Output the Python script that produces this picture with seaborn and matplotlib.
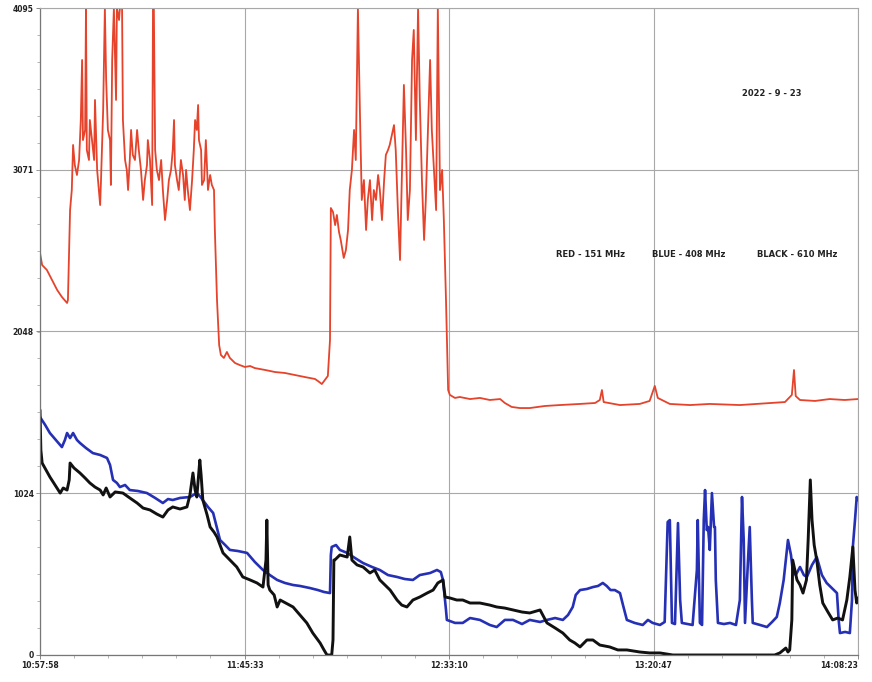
import numpy as np
import pandas as pd
import matplotlib
matplotlib.use("Agg")
import matplotlib.pyplot as plt
import seaborn as sns
from matplotlib.ticker import FixedLocator, MultipleLocator

# ---- data (time in minutes since 10:57:58, value in counts) ----
red_t = [0.0, 0.5, 1.6, 2.8, 4.0, 5.1, 6.3, 6.5, 7.0, 7.4, 7.7, 8.1, 8.6, 9.1, 9.5, 9.8, 10.0, 10.5, 10.7, 10.9,
         11.4, 11.6, 12.1, 12.6, 12.8, 13.3, 13.7, 14.0, 14.2, 14.7, 15.1, 15.4, 15.8, 16.3, 16.5, 16.8, 17.2, 17.7,
         17.9, 18.4, 18.6, 19.1, 19.3, 19.8, 20.2, 20.5, 20.9, 21.2, 21.6, 22.1, 22.6, 23.0, 23.5, 24.0, 24.4, 24.9,
         25.1, 25.6, 26.1, 26.3, 26.5, 26.8, 27.2, 27.7, 28.2, 28.6, 29.1, 29.6, 30.0, 30.5, 30.9, 31.2, 31.4, 31.9,
         32.3, 32.8, 33.3, 33.7, 34.0, 34.4, 34.9, 35.4, 35.8, 36.1, 36.5, 36.8, 37.0, 37.5, 37.7, 38.2, 38.6, 39.1,
         39.6, 40.0, 40.5, 40.7, 41.2, 41.7, 42.1, 42.8, 43.5, 44.2, 45.4, 46.5, 47.7, 48.9, 50.0, 52.4, 54.7, 57.0,
         59.3, 61.7, 64.0, 64.7, 65.6, 66.3, 67.0, 67.5, 67.7, 68.2, 68.7, 69.1, 69.6, 70.0, 70.7, 71.2, 71.7, 72.1,
         72.6, 73.1, 73.5, 74.0, 74.5, 74.9, 75.4, 75.9, 76.3, 76.8, 77.3, 77.7, 78.2, 78.7, 79.1, 79.6, 80.1, 80.5,
         81.0, 81.4, 81.9, 82.4, 82.8, 83.3, 83.8, 84.2, 84.7, 85.2, 85.6, 86.1, 86.6, 87.0, 87.5, 88.0, 88.4, 88.9,
         89.4, 89.8, 90.3, 90.8, 91.2, 91.7, 92.2, 92.6, 93.1, 93.6, 94.0, 94.5, 95.0, 95.4, 96.6, 97.7, 100.1, 102.4,
         104.7, 107.1, 108.2, 109.8, 111.7, 114.0, 117.5, 121.0, 125.7, 129.2, 130.3, 130.8, 131.2, 135.0, 139.6,
         141.9, 143.1, 143.8, 146.6, 151.3, 155.9, 162.9, 169.9, 173.4, 175.0, 175.5, 175.9, 176.9, 180.4, 183.8,
         187.3, 190.4]
red_v = [2544, 2468, 2437, 2373, 2310, 2266, 2228, 2247, 2816, 2943, 3228, 3101, 3038, 3133, 3386, 3766, 3259, 3323,
         4095, 3196, 3133, 3386, 3259, 3133, 3513, 3070, 2943, 2848, 3006, 3449, 4095, 3639, 3323, 3259, 2975, 3766,
         4095, 3513, 4095, 4019, 4095, 4095, 3386, 3133, 3070, 2943, 3133, 3323, 3165, 3133, 3323, 3196, 3070, 2880,
         3006, 3101, 3259, 3133, 2848, 4095, 4095, 3196, 3070, 3006, 3133, 2943, 2753, 2880, 3006, 3070, 3196, 3386,
         3101, 3006, 2943, 3133, 3038, 2880, 3070, 2943, 2816, 3006, 3196, 3386, 3323, 3481, 3259, 3196, 2975, 3006,
         3259, 2943, 3038, 2975, 2943, 2690, 2247, 1962, 1899, 1880, 1918, 1880, 1848, 1835, 1823, 1829, 1816, 1804,
         1791, 1785, 1772, 1759, 1747, 1734, 1715, 1740, 1766, 1994, 2829, 2804, 2721, 2785, 2677, 2627, 2513, 2563,
         2690, 2943, 3070, 3323, 3133, 4095, 3386, 2880, 3006, 2690, 2880, 3006, 2753, 2943, 2880, 3038, 2943, 2753,
         3006, 3165, 3196, 3228, 3291, 3354, 3196, 2816, 2500, 3006, 3608, 3196, 2753, 2943, 3766, 3956, 3259, 4095,
         3513, 3006, 2627, 2880, 3323, 3766, 3323, 3070, 2816, 4095, 2943, 3070, 2753, 2247, 1677, 1646, 1627, 1633,
         1620, 1627, 1614, 1620, 1595, 1570, 1563, 1563, 1576, 1582, 1589, 1595, 1614, 1677, 1601, 1582, 1589, 1608,
         1703, 1627, 1589, 1582, 1589, 1582, 1595, 1601, 1646, 1804, 1639, 1614, 1608, 1620, 1614, 1620]

blue_t = [0.0, 1.2, 2.3, 3.7, 5.1, 5.8, 6.3, 7.0, 7.7, 8.6, 9.3, 10.7, 12.3, 14.0, 15.6, 16.3, 17.0, 17.9, 18.6,
          19.8, 20.9, 22.8, 24.9, 26.8, 28.6, 29.8, 30.9, 32.6, 34.9, 36.5, 37.2, 37.9, 39.1, 40.3, 41.0, 41.9, 43.1,
          44.2, 46.1, 48.2, 50.0, 51.9, 53.5, 55.2, 57.0, 58.9, 60.5, 62.8, 64.7, 66.1, 67.5, 67.7, 67.9, 68.9, 69.8,
          71.5, 73.3, 75.2, 77.3, 79.1, 81.0, 83.1, 84.9, 86.8, 88.4, 90.8, 92.4, 93.3, 93.8, 94.5, 94.7, 96.6, 98.4,
          100.1, 102.4, 104.7, 106.3, 108.2, 110.1, 112.2, 114.0, 116.4, 118.0, 119.9, 121.7, 122.9, 124.0, 124.7,
          125.7, 127.3, 128.7, 129.9, 131.0, 131.9, 132.8, 133.8, 135.0, 135.7, 136.6, 138.4, 140.3, 141.5, 142.6,
          144.3, 145.4, 146.1, 146.6, 147.1, 147.8, 148.5, 149.0, 149.4, 150.8, 151.9, 152.9, 153.1, 153.6, 154.1,
          154.5, 154.8, 155.2, 155.5, 155.9, 156.4, 156.9, 157.1, 157.3, 157.8, 159.2, 160.6, 162.0, 162.9, 163.4,
          163.8, 164.1, 164.8, 165.2, 165.7, 165.9, 167.6, 169.2, 170.4, 171.5, 172.2, 173.1, 173.6, 174.1, 174.8,
          175.2, 175.9, 176.9, 177.8, 178.5, 179.7, 180.8, 182.0, 183.1, 184.3, 185.5, 185.9, 186.2, 187.4, 188.5,
          189.0, 189.2, 189.7, 190.1, 190.4]
blue_v = [1506, 1456, 1405, 1361, 1316, 1361, 1405, 1373, 1405, 1361, 1342, 1310, 1278, 1266, 1247, 1203, 1108,
          1089, 1063, 1076, 1044, 1038, 1025, 994, 962, 987, 981, 994, 1000, 1025, 1006, 981, 937, 899, 823, 728, 696,
          665, 658, 646, 589, 538, 506, 475, 456, 443, 437, 424, 411, 399, 392, 633, 684, 696, 665, 646, 614, 582, 557,
          538, 506, 494, 481, 475, 506, 519, 538, 525, 475, 285, 222, 203, 203, 234, 222, 190, 177, 222, 222, 196, 222,
          209, 222, 234, 222, 253, 304, 380, 411, 418, 430, 437, 456, 437, 411, 411, 392, 316, 222, 203, 190, 222, 203,
          190, 209, 842, 854, 203, 196, 835, 348, 203, 196, 190, 538, 854, 203, 190, 854, 1044, 791, 810, 665, 1025,
          810, 810, 475, 203, 196, 203, 190, 348, 1000, 728, 203, 601, 810, 348, 203, 190, 177, 209, 241, 329, 475,
          601, 728, 633, 538, 506, 557, 506, 494, 570, 620, 506, 456, 424, 392, 222, 139, 146, 139, 348, 684, 854,
          1000, 981]

black_t = [0.0, 0.2, 0.5, 1.4, 2.3, 3.5, 4.7, 5.4, 6.3, 6.8, 7.0, 7.9, 9.3, 10.5, 11.6, 12.8, 14.0, 14.7, 15.4,
           16.3, 17.5, 19.3, 20.9, 22.6, 24.0, 25.6, 27.2, 28.6, 29.8, 30.9, 32.6, 34.2, 34.9, 35.6, 36.1, 36.5, 37.0,
           37.2, 37.5, 37.9, 38.9, 39.6, 40.5, 41.2, 41.9, 42.6, 44.2, 45.8, 47.2, 48.9, 50.5, 51.9, 52.6, 52.8, 53.1,
           53.5, 54.5, 55.2, 55.9, 57.2, 58.9, 60.5, 62.1, 63.5, 65.2, 66.1, 66.8, 67.9, 68.2, 68.4, 68.6, 69.8, 71.5,
           72.1, 72.6, 73.8, 75.2, 76.8, 77.9, 79.1, 80.3, 81.5, 83.1, 84.2, 85.4, 86.8, 88.4, 90.1, 91.5, 92.6, 93.8,
           94.3, 95.4, 97.0, 98.4, 100.1, 102.4, 104.7, 106.3, 108.2, 110.1, 112.2, 114.0, 116.4, 118.0, 119.9, 121.7,
           123.3, 124.5, 125.7, 127.3, 128.7, 130.3, 132.6, 134.5, 136.6, 139.6, 141.9, 144.3, 147.3, 153.6, 162.9,
           171.0, 172.2, 173.6, 174.1, 174.5, 175.0, 175.2, 176.2, 176.9, 177.6, 178.4, 178.8, 179.3, 179.7, 180.2,
           180.8, 181.5, 182.2, 183.4, 184.5, 185.7, 186.8, 187.8, 188.5, 189.2, 189.7, 190.1, 190.4]
black_v = [1551, 1297, 1215, 1171, 1127, 1076, 1025, 1057, 1044, 1108, 1215, 1184, 1152, 1120, 1089, 1063, 1044,
           1013, 1057, 1000, 1032, 1025, 994, 962, 930, 918, 892, 873, 918, 937, 924, 937, 1013, 1152, 1044, 1000,
           1171, 1234, 1139, 981, 886, 810, 778, 747, 696, 646, 601, 557, 494, 475, 456, 430, 601, 854, 443, 411, 380,
           304, 348, 329, 304, 253, 203, 139, 76, 32, 0, 0, 95, 601, 601, 633, 620, 747, 601, 570, 557, 519, 538, 475,
           443, 411, 348, 316, 304, 348, 367, 392, 411, 456, 475, 367, 361, 348, 348, 329, 329, 316, 304, 297, 285,
           272, 266, 285, 203, 171, 139, 95, 76, 51, 95, 95, 63, 51, 32, 32, 19, 13, 13, 0, 0, 0, 0, 13, 44, 19, 32,
           222, 601, 475, 443, 392, 475, 728, 1108, 854, 696, 601, 443, 329, 272, 222, 234, 222, 348, 494, 684, 411,
           329, 361]

x_tick_labels = ["10:57:58", "11:45:33", "12:33:10", "13:20:47", "14:08:23"]
y_tick_labels = ["0", "1024", "2048", "3071", "4095"]
series_labels = ["RED - 151 MHz", "BLUE - 408 MHz", "BLACK - 610 MHz"]
date_label = "2022 - 9 - 23"

T_END = 190.4
x_ticks = [0.0, 47.6, 95.2, 142.8, 190.4]
y_ticks = [0, 1024, 2048, 3071, 4095]

# ---- plot ----
sns.set_theme(style="white")
plt.rcParams['font.family'] = ['DejaVu Sans']

fig = plt.figure(figsize=(8.72, 6.82), dpi=100)
ax = fig.add_axes([40/872, 1-655/682, (858-40)/872, (655-8)/682])

df_r = pd.DataFrame({"t": red_t, "v": red_v})
df_b = pd.DataFrame({"t": blue_t, "v": blue_v})
df_k = pd.DataFrame({"t": black_t, "v": black_v})

sns.lineplot(data=df_r, x="t", y="v", ax=ax, color="#e5432b", lw=1.3, estimator=None, sort=False)
sns.lineplot(data=df_b, x="t", y="v", ax=ax, color="#2530b5", lw=1.9, estimator=None, sort=False)
sns.lineplot(data=df_k, x="t", y="v", ax=ax, color="#111111", lw=2.1, estimator=None, sort=False)

ax.set_xlim(0, T_END)
ax.set_ylim(0, 4095)
ax.set_xlabel("")
ax.set_ylabel("")

ax.xaxis.set_major_locator(FixedLocator(x_ticks))
ax.set_xticklabels(x_tick_labels)
ax.xaxis.set_minor_locator(MultipleLocator(47.6/6))
ax.yaxis.set_major_locator(FixedLocator(y_ticks))
ax.set_yticklabels(y_tick_labels)
ax.yaxis.set_minor_locator(MultipleLocator(4095/24))

ax.grid(True, which="major", color="#a8a8a8", lw=0.8)
ax.set_axisbelow(True)
ax.tick_params(axis="both", which="major", direction="out", length=3, width=0.7, color="#888888",
               labelsize=5.5, pad=1.5, labelcolor="#222222")
ax.tick_params(axis="both", which="minor", direction="out", length=2.5, width=0.6, color="#aaaaaa")
ax.tick_params(axis="x", which="both", bottom=True)
ax.tick_params(axis="y", which="both", left=True)
for lab in ax.get_yticklabels() + ax.get_xticklabels():
    lab.set_fontweight("bold")
# keep the last time label inside the figure
ax.get_xticklabels()[-1].set_horizontalalignment("right")

for side in ["left", "bottom"]:
    ax.spines[side].set_color("#777777")
    ax.spines[side].set_linewidth(0.9)
for side in ["top", "right"]:
    ax.spines[side].set_color("#a8a8a8")
    ax.spines[side].set_linewidth(0.8)

ax.text(170.4, 3557, date_label, ha="center", va="center", fontsize=6, fontweight="bold", color="#222222")
for xpos, lab in zip([128.2, 151.0, 176.2], series_labels):
    ax.text(xpos, 2532, lab, ha="center", va="center", fontsize=6, fontweight="bold", color="#222222")

fig.savefig("out.png", dpi=100)
